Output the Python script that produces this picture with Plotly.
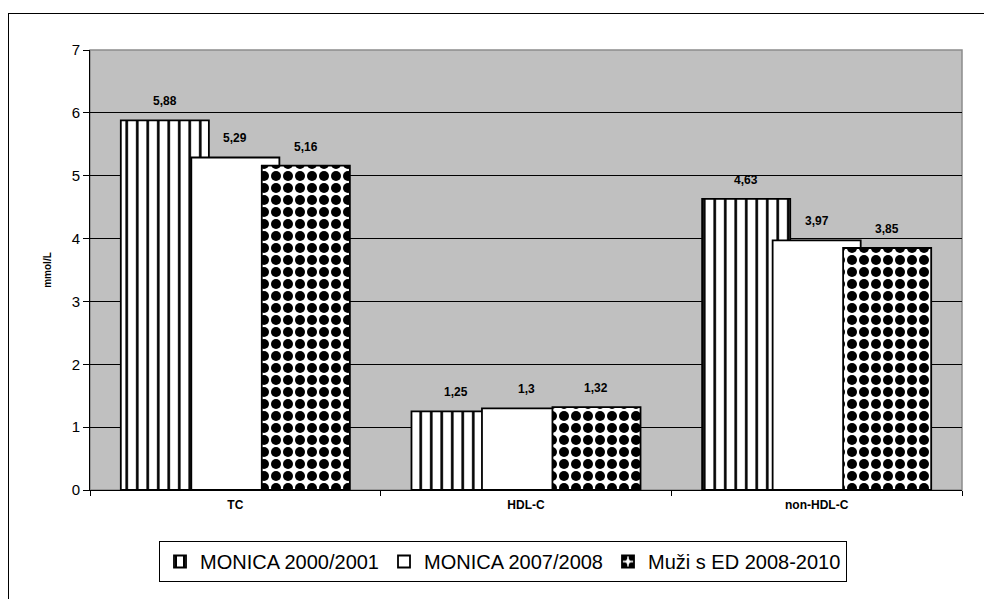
import plotly.graph_objects as go

# Lipid values (mmol/L) per survey
categories = ["TC", "HDL-C", "non-HDL-C"]
series_names = ["MONICA 2000/2001", "MONICA 2007/2008", "Muži s ED 2008-2010"]
monica_2000 = [5.88, 1.25, 4.63]
monica_2007 = [5.29, 1.30, 3.97]
muzi_ed = [5.16, 1.32, 3.85]
y_ticks = [0, 1, 2, 3, 4, 5, 6, 7]

series_values = [monica_2000, monica_2007, muzi_ed]

# Bars overlap slightly, like the classic spreadsheet style
bar_width = 0.303
centers = [-0.2425, 0.0, 0.2425]

patterns = [
    dict(shape="|", fgcolor="black", fgopacity=1, bgcolor="white", size=10.5, solidity=0.25),
    dict(shape="", bgcolor="white"),
    dict(shape=".", fgcolor="black", fgopacity=1, bgcolor="white", size=12, solidity=0.55),
]

FONT = "Liberation Sans, Arial, sans-serif"

fig = go.Figure()
for name, vals, c, pat in zip(series_names, series_values, centers, patterns):
    fig.add_trace(go.Bar(
        x=categories,
        y=vals,
        name=name,
        width=bar_width,
        offset=c - bar_width / 2,
        marker=dict(color="white", pattern=pat, line=dict(color="black", width=1.8)),
        hoverinfo="skip",
    ))

def fmt(v):
    s = f"{v:.2f}".rstrip("0").rstrip(".")
    return s.replace(".", ",")

annotations = []
for vals, c in zip(series_values, centers):
    for i, v in enumerate(vals):
        annotations.append(dict(
            x=i + c, y=v, xref="x", yref="y",
            text=fmt(v), showarrow=False, yshift=19,
            font=dict(family=FONT, size=12, color="black", weight="bold"),
        ))

# plot-area frame (gray) and the outer chart frame (left/top edges)
shapes = [
    dict(type="rect", xref="paper", yref="paper", x0=0, x1=1, y0=0, y1=1,
         line=dict(color="#8c8c8c", width=1.5), layer="below"),
    dict(type="line", xref="paper", yref="paper",
         x0=(8.5 - 90) / 872, x1=(8.5 - 90) / 872, y0=(490 - 13) / 440, y1=(490 - 620) / 440,
         line=dict(color="black", width=1)),
    dict(type="line", xref="paper", yref="paper",
         x0=(8.5 - 90) / 872, x1=(1000 - 90) / 872, y0=(490 - 13.5) / 440, y1=(490 - 13.5) / 440,
         line=dict(color="black", width=1)),
]

fig.update_layout(
    width=984, height=599,
    margin=dict(l=90, r=22, t=50, b=109),
    barmode="overlay",
    paper_bgcolor="white",
    plot_bgcolor="#c0c0c0",
    font=dict(family=FONT, color="black"),
    showlegend=True,
    legend=dict(
        orientation="h",
        x=(503 - 90) / 872, xanchor="center",
        y=(490 - 541) / 440, yanchor="top",
        bgcolor="white", bordercolor="black", borderwidth=1,
        font=dict(family=FONT, size=20, color="black"),
        itemclick=False, itemdoubleclick=False,
        traceorder="normal",
    ),
    annotations=annotations,
    shapes=shapes,
    xaxis=dict(
        type="category",
        showline=True, linecolor="black", linewidth=1,
        ticks="outside", tickson="boundaries", ticklen=5, tickcolor="black",
        ticklabelstandoff=4,
        showgrid=False,
        tickfont=dict(family=FONT, size=12, color="black", weight="bold"),
        range=[-0.5, 2.5],
        fixedrange=True,
    ),
    yaxis=dict(
        range=[0, 7],
        tickvals=y_ticks,
        showline=True, linecolor="black", linewidth=1,
        ticks="outside", ticklen=6, tickcolor="black",
        showgrid=True, gridcolor="black", gridwidth=1,
        zeroline=False,
        tickfont=dict(family=FONT, size=15, color="black"),
        title=dict(text="mmol/L", standoff=18,
                   font=dict(family=FONT, size=10, color="black", weight="bold")),
        fixedrange=True,
    ),
)

fig.write_html("out.html")
